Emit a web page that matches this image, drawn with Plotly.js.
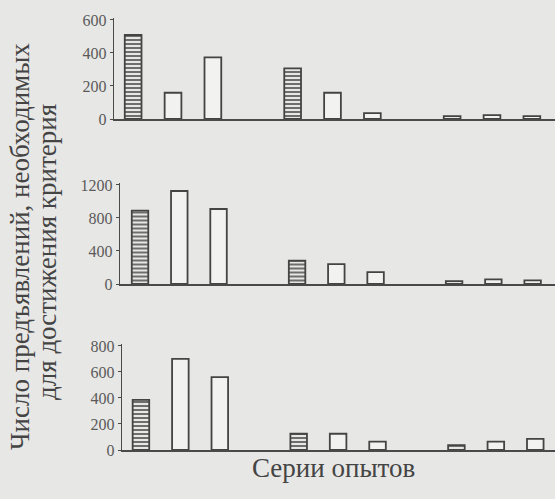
<!DOCTYPE html>
<html><head><meta charset="utf-8">
<script src="https://cdn.plot.ly/plotly-3.0.1.min.js"></script>
<style>html,body{margin:0;padding:0;background:#e7e7e5;}</style>
</head><body>
<div id="chart" style="width:555px;height:499px;"></div>
<script>
// slots: three series of three bars, with empty slots between series
const slots = [0, 1, 2, 4, 5, 6, 8, 9, 10];
const barKinds = ['dark', 'open', 'open', 'dark', 'open', 'open', 'dark', 'open', 'open'];
const valuesTop = [509, 159, 374, 307, 159, 35, 18, 24, 18];
const valuesMid = [888, 1127, 909, 282, 242, 145, 36, 55, 45];
const valuesBot = [385, 700, 561, 125, 125, 65, 38, 64, 85];
const ticksTop = [0, 200, 400, 600];
const ticksMid = [0, 400, 800, 1200];
const ticksBot = [0, 200, 400, 600, 800];
const yTitleLines = ['Число предъявлений, необходимых', 'для достижения критерия'];
const xTitle = 'Серии опытов';

const ink = '#4a4a4a';
const serif = 'Liberation Serif, DejaVu Serif, serif';

function barTrace(vals, xa, ya) {
  return {
    type: 'bar', x: slots, y: vals, xaxis: xa, yaxis: ya, width: 0.42,
    marker: {
      color: barKinds.map(k => k === 'dark' ? '#6e6e6e' : '#f2f2f0'),
      line: {color: '#444', width: 1.8},
      pattern: {
        shape: barKinds.map(k => k === 'dark' ? '-' : ''),
        fgcolor: '#2e2e2e', bgcolor: '#7e7e7e', size: 4, solidity: 0.5
      }
    },
    hoverinfo: 'skip', showlegend: false
  };
}

function xAxis(dom, range) {
  return {domain: dom, range: range, showline: true, linecolor: ink, linewidth: 1.6,
          showgrid: false, zeroline: false, showticklabels: false, ticks: '', fixedrange: true};
}
function yAxis(dom, range, tv) {
  return {domain: dom, range: range, showline: true, linecolor: ink, linewidth: 1.4,
          showgrid: false, zeroline: false, tickvals: tv, ticktext: tv.map(String),
          ticks: 'outside', ticklen: 3, tickcolor: ink,
          tickfont: {family: serif, size: 16, color: '#5a5a5a'}, fixedrange: true};
}

const data = [
  barTrace(valuesTop, 'x', 'y'),
  barTrace(valuesMid, 'x2', 'y2'),
  barTrace(valuesBot, 'x3', 'y3')
];

const titleFont = {family: serif, size: 27, color: '#444444'};

const layout = {
  width: 555, height: 499,
  margin: {l: 0, r: 0, t: 0, b: 0},
  paper_bgcolor: '#e7e7e5', plot_bgcolor: 'rgba(0,0,0,0)',
  xaxis: xAxis([114/555, 1], [-0.48, 10.58]),
  xaxis2: xAxis([120/555, 1], [-0.51, 10.57]),
  xaxis3: xAxis([122/555, 1], [-0.48, 10.5]),
  yaxis: Object.assign(yAxis([1 - 119/499, 1 - 18/499], [0, 612], ticksTop), {anchor: 'x'}),
  yaxis2: Object.assign(yAxis([1 - 284/499, 1 - 182.5/499], [0, 1230], ticksMid), {anchor: 'x2'}),
  yaxis3: Object.assign(yAxis([1 - 450/499, 1 - 344/499], [0, 815], ticksBot), {anchor: 'x3'}),
  annotations: [
    {text: yTitleLines[0], xref: 'paper', yref: 'paper', x: 20/555, y: 1 - 247/499,
     xanchor: 'center', yanchor: 'middle',
     textangle: -90, showarrow: false, font: titleFont},
    {text: yTitleLines[1], xref: 'paper', yref: 'paper', x: 47/555, y: 1 - 252/499,
     xanchor: 'center', yanchor: 'middle',
     textangle: -90, showarrow: false, font: titleFont},
    {text: xTitle, xref: 'paper', yref: 'paper', x: 333/555, y: 1 - 485/499,
     showarrow: false, font: titleFont}
  ]
};
layout.xaxis.anchor = 'y';
layout.xaxis2.anchor = 'y2';
layout.xaxis3.anchor = 'y3';

Plotly.newPlot('chart', data, layout, {staticPlot: true, displayModeBar: false});
</script>
</body></html>
